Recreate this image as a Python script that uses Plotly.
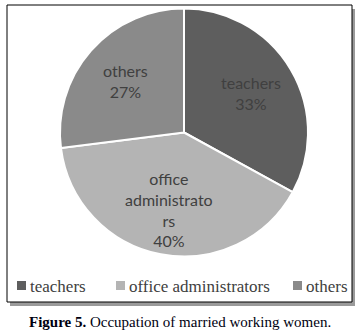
import math
import plotly.graph_objects as go

categories = ["teachers", "office administrators", "others"]
values = [33, 40, 27]
slice_text = ["teachers<br>33%", "office<br>administrato<br>rs<br>40%", "others<br>27%"]
colors = ["#5e5e5e", "#b4b4b4", "#8a8a8a"]
legend_x_px = [17, 116, 293]

W, H = 360, 335
cx, cy, r = 184, 132.5, 124
label_frac = 0.63

fig = go.Figure()
fig.add_trace(go.Pie(
    labels=categories,
    values=values,
    textinfo="none",
    sort=False,
    direction="clockwise",
    rotation=0,
    marker=dict(colors=colors, line=dict(color="white", width=2)),
    domain=dict(x=[(cx - r) / W, (cx + r) / W], y=[(H - cy - r) / H, (H - cy + r) / H]),
    hoverinfo="skip",
    showlegend=False,
))

# slice labels placed along each slice's bisector (derived from the values)
total = sum(values)
cum = 0
for v, t in zip(values, slice_text):
    mid = (cum + v / 2) / total * 2 * math.pi
    cum += v
    px = cx + label_frac * r * math.sin(mid)
    py = cy - label_frac * r * math.cos(mid)
    fig.add_annotation(text=t, xref="paper", yref="paper", x=px / W, y=(H - py) / H,
                       showarrow=False, xanchor="center", yanchor="middle",
                       font=dict(family="Lato", size=16, color="#404040"))

# box shadow and border
fig.add_shape(type="rect", xref="paper", yref="paper",
              x0=10 / W, x1=355 / W, y0=(H - 306) / H, y1=(H - 9) / H,
              line=dict(width=0), fillcolor="#9a9a9a", layer="below")
fig.add_shape(type="rect", xref="paper", yref="paper",
              x0=7 / W, x1=352 / W, y0=(H - 302) / H, y1=(H - 5) / H,
              line=dict(color="black", width=1), fillcolor="white", layer="below")

# legend
ly = 286
for name, col, lx in zip(categories, colors, legend_x_px):
    fig.add_shape(type="rect", xref="paper", yref="paper",
                  x0=lx / W, x1=(lx + 9) / W, y0=(H - ly - 4) / H, y1=(H - ly + 5) / H,
                  line=dict(width=0), fillcolor=col)
    fig.add_annotation(text=name, xref="paper", yref="paper", x=(lx + 11) / W, y=(H - ly) / H,
                       showarrow=False, xanchor="left", yanchor="middle",
                       font=dict(family="Liberation Serif", size=17, color="#404040"))

fig.add_annotation(
    text="<b>Figure 5.</b> Occupation of married working women.",
    xref="paper", yref="paper", x=0.5, y=(H - 322) / H,
    showarrow=False, xanchor="center", yanchor="middle",
    font=dict(family="Liberation Serif", size=15, color="#000010"),
)

fig.update_layout(
    width=W, height=H,
    margin=dict(l=0, r=0, t=0, b=0),
    paper_bgcolor="white",
    showlegend=False,
)

fig.write_html("out.html")
